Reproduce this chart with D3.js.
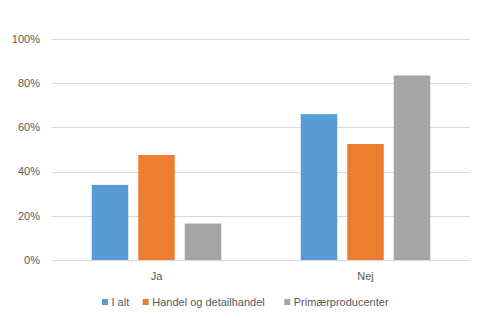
<!DOCTYPE html>
<html><head><meta charset="utf-8">
<script src="https://cdn.jsdelivr.net/npm/d3@7"></script>
<style>body{margin:0;background:#fff}svg{display:block}text{font-family:"Liberation Sans",Arial,sans-serif;font-size:11px;fill:#595959}</style>
</head><body>
<svg id="c" width="488" height="323"></svg>
<script>
const categories = ["Ja", "Nej"];
const seriesNames = ["I alt", "Handel og detailhandel", "Primærproducenter"];
const iAlt = [34, 66];
const handel = [47.5, 52.5];
const primaer = [16.5, 83.5];
const yTicks = [0, 20, 40, 60, 80, 100];
const colors = ["#5B9BD5", "#ED7D31", "#A5A5A5"];

const seriesValues = [iAlt, handel, primaer];
const svg = d3.select("#c");
const plotLeft = 52, plotRight = 470, plotTop = 39, plotBottom = 260;

const x = d3.scaleBand().domain(categories).range([plotLeft, plotRight]);
const y = d3.scaleLinear().domain([0, 100]).range([plotBottom, plotTop]);
const barW = 36.5, step = 46.5;
const xs = d3.scaleBand().domain(seriesNames).range([-step*1.5, step*1.5]);

// gridlines
svg.append("g").selectAll("line").data(yTicks).join("line")
  .attr("x1", plotLeft).attr("x2", plotRight)
  .attr("y1", d => Math.round(y(d)) + 0.5).attr("y2", d => Math.round(y(d)) + 0.5)
  .attr("stroke", "#d9d9d9").attr("stroke-width", 1);

// y labels
svg.append("g").selectAll("text").data(yTicks).join("text")
  .attr("x", 40).attr("y", d => y(d)).attr("dy", "0.35em")
  .attr("text-anchor", "end").text(d => d + "%");

// bars
seriesValues.forEach((vals, si) => {
  svg.append("g").selectAll("rect").data(categories).join("rect")
    .attr("x", (c) => x(c) + x.bandwidth()/2 + xs(seriesNames[si]) + (step - barW)/2)
    .attr("width", barW)
    .attr("y", (c, i) => y(vals[i]))
    .attr("height", (c, i) => plotBottom - y(vals[i]))
    .attr("fill", colors[si]);
});

// x labels
svg.append("g").selectAll("text").data(categories).join("text")
  .attr("x", d => x(d) + x.bandwidth()/2).attr("y", 280)
  .attr("text-anchor", "middle").text(d => d);

// legend
const lg = svg.append("g");
let lx = 102;
seriesNames.forEach((n, i) => {
  lg.append("rect").attr("x", lx).attr("y", 299).attr("width", 6).attr("height", 6).attr("fill", colors[i]);
  const t = lg.append("text").attr("x", lx + 9.5).attr("y", 302).attr("dy", "0.35em").text(n);
  const w = t.node().getComputedTextLength();
  lx += 9.5 + w + (i === 0 ? 13.5 : 19.5);
});
</script>
</body></html>
